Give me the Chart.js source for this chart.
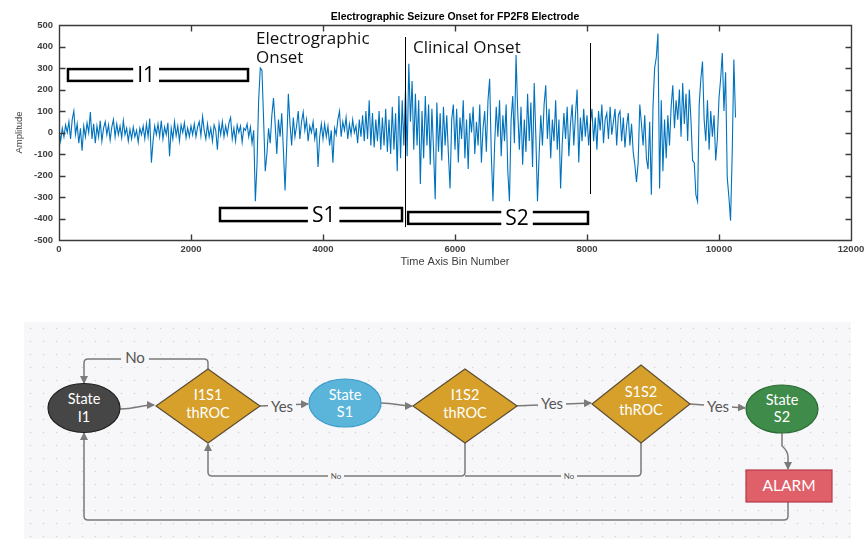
<!DOCTYPE html>
<html>
<head>
<meta charset="utf-8">
<script src="https://cdn.jsdelivr.net/npm/chart.js@4"></script>
<style>
  body { margin: 0; background: #fff; width: 866px; height: 539px; overflow: hidden; position: relative; }
  #eeg { position: absolute; left: 0; top: 0; }
  #flow { position: absolute; left: 0; top: 300px; }
</style>
</head>
<body>
<canvas id="eeg" width="866" height="272"></canvas>
<svg id="flow" width="866" height="239" viewBox="0 300 866 239" xmlns="http://www.w3.org/2000/svg">
  <defs>
    <pattern id="dots" x="24" y="322" width="13" height="13" patternUnits="userSpaceOnUse">
      <circle cx="6.5" cy="6.5" r="0.8" fill="#d3d3d8"/>
    </pattern>
    <marker id="arr" markerWidth="8" markerHeight="8" refX="7" refY="4" orient="auto" markerUnits="userSpaceOnUse">
      <path d="M0,0 L8,4 L0,8 z" fill="#7a7a7a"/>
    </marker>
  </defs>
  <rect x="24" y="322" width="827" height="217" fill="#f7f7f9"/>
  <rect x="24" y="322" width="827" height="217" fill="url(#dots)"/>

  <g fill="none" stroke="#7a7a7a" stroke-width="1.5">
    <path d="M120,409 C137,409 138,405 154,405" marker-end="url(#arr)"/>
    <path d="M208,369 L208,363 Q208,359 204,359 L88,359 Q84,359 84,363 L84,383" marker-end="url(#arr)"/>
    <path d="M260,406 L308,404" marker-end="url(#arr)"/>
    <path d="M381,403 C397,403 397,406 412,406" marker-end="url(#arr)"/>
    <path d="M513,406 L591,403" marker-end="url(#arr)"/>
    <path d="M690,404 L745,408" marker-end="url(#arr)"/>
    <path d="M782,433 L782,446 Q788,451 788,457 L788,469" marker-end="url(#arr)"/>
    <path d="M465,443 L465,472 Q465,476 461,476 L212,476 Q208,476 208,472 L208,444" marker-end="url(#arr)"/>
    <path d="M641,443 L641,472 Q641,476 637,476 L465,476"/>
    <path d="M788,502 L788,516 Q788,520 784,520 L88,520 Q84,520 84,516 L84,433" marker-end="url(#arr)"/>
  </g>

  <g font-family="Lato, 'Open Sans', sans-serif" text-anchor="middle" dominant-baseline="middle" fill="#555">
    <rect x="121" y="351" width="28" height="16" fill="#f7f7f9"/>
    <text x="135" y="359" font-size="15">No</text>
    <rect x="268" y="399" width="28" height="16" fill="#f7f7f9"/>
    <text x="282" y="408" font-size="15">Yes</text>
    <rect x="538" y="396" width="28" height="16" fill="#f7f7f9"/>
    <text x="552" y="405" font-size="15">Yes</text>
    <rect x="704" y="399" width="28" height="16" fill="#f7f7f9"/>
    <text x="718" y="408" font-size="15">Yes</text>
    <rect x="328" y="471" width="16" height="10" fill="#f7f7f9"/>
    <text x="336" y="477" font-size="8">No</text>
    <rect x="561" y="471" width="16" height="10" fill="#f7f7f9"/>
    <text x="569" y="477" font-size="8">No</text>
  </g>

  <ellipse cx="84" cy="408" rx="36" ry="24.5" fill="#464646" stroke="#222" stroke-width="1.2"/>
  <path d="M156,406 L208,369 L260,406 L208,443 Z" fill="#d6a02a" stroke="#5b4d33" stroke-width="1.2"/>
  <ellipse cx="345" cy="403" rx="36" ry="24" fill="#5bb5da" stroke="#3a9bc9" stroke-width="1.2"/>
  <path d="M413,406 L465,369 L517,406 L465,443 Z" fill="#d6a02a" stroke="#5b4d33" stroke-width="1.2"/>
  <path d="M592,404 L641,365 L690,404 L641,443 Z" fill="#d6a02a" stroke="#5b4d33" stroke-width="1.2"/>
  <ellipse cx="782" cy="409" rx="36" ry="24" fill="#3f8b4a" stroke="#2b6a35" stroke-width="1.2"/>
  <rect x="746" y="470" width="86" height="32" fill="#e0606a" stroke="#b53a48" stroke-width="1.2"/>

  <g font-family="Lato, 'Open Sans', sans-serif" font-size="14.5" fill="#fff" text-anchor="middle" dominant-baseline="middle">
    <text x="84" y="400">State</text><text x="84" y="418">I1</text>
    <text x="208" y="396">I1S1</text><text x="208" y="414">thROC</text>
    <text x="345" y="396">State</text><text x="345" y="413">S1</text>
    <text x="465" y="396">I1S2</text><text x="465" y="414">thROC</text>
    <text x="641" y="393">S1S2</text><text x="641" y="411">thROC</text>
    <text x="782" y="401">State</text><text x="782" y="418">S2</text>
    <text x="789" y="487" font-size="15.5">ALARM</text>
  </g>
</svg>
<script>
// sample spacing in bins
const STEP = 25;

// amplitude, one value every STEP bins
const amplitude = [
  10, -40, 20, -20, 35, 0, 50, -30, 60, 100, -10, 40, -50, 20, -85, 30, -20, 45, 0, 95,
  -30, 40, -50, 30, -20, 55, -40, 20, 50, -10, 35, -35, 25, 60, -20, 40, -10, 30, -25, 55,
  -10, 20, -40, 15, -30, 25, -20, 10, -45, 20, -10, 30, -30, 40, -20, 65, -140, -40, 30, -10,
  40, -20, 55, -30, 25, -10, 45, -110, 20, -30, 50, -15, 30, -40, 35, 0, 45, -25, 20, -20,
  30, -10, 40, -20, 25, 50, -15, 75, 10, -30, 40, -20, 20, -40, 35, 10, -80, 40, -10, 50,
  -20, 30, -10, 45, 70, -30, 20, -40, 35, 0, 30, -45, 20, 10, 40, -20, 25, -50, 10, -320,
  -150, 150, 300, 290, 60, -180, -100, 20, -50, 80, 160, 40, -100, 60, -20, 90, -80, -270, -60, 180,
  40, -60, 70, -20, 30, 100, -30, 50, 95, 10, 60, -40, 30, 0, 50, -30, 20, -160, -20, 40,
  -30, 40, -20, 30, -60, 10, -140, 20, -10, 60, 100, -20, 50, 10, 70, -30, 40, -10, 60, 0,
  30, -50, 60, -20, 80, -40, 100, -30, 150, -60, 90, -70, 60, -40, 100, -80, 70, -60, 110, -90,
  60, -100, 120, -80, 90, -180, 170, -120, 150, -60, 200, -110, 320, 50, 240, -80, 180, -60, 150, -240,
  100, -120, 170, -60, 130, -150, 110, -80, -310, 140, -90, 90, -130, 120, -60, 80, -100, -260, 60, 130,
  -80, 110, -140, 70, -30, 150, -120, 60, -170, 90, 0, 120, -100, 50, -60, 130, -140, 20, 100, -90,
  150, 250, -100, -320, -60, 120, -20, 150, -110, 80, -40, 130, -180, -320, 60, 170, -50, 360, 100, -80,
  120, -150, 60, -90, 180, -40, 140, -160, 230, -20, -320, -100, 80, -60, 130, 220, -30, 110, -120, 60,
  -40, 150, -80, 60, -260, -50, 90, -30, 120, -110, 40, 130, -60, 80, 200, -140, 70, -40, 110, -20,
  80, -60, 40, 110, -40, 70, -80, 100, 10, 130, -50, 60, 90, -30, 120, -10, 50, 110, -60, 80,
  100, -40, 70, -70, 30, 90, -60, 40, -90, -150, -230, -140, 130, 40, -60, 80, -120, -170, 50, -290,
  120, 300, 350, 460, -260, 150, -180, 60, -120, 80, -60, 120, 220, 20, 150, 60, 200, -20, 230, 40,
  180, -40, 200, 60, -130, -140, -290, -320, 130, 250, 330, 60, -40, 150, -80, 100, -20, 80, -130, -30,
  160, 250, 370, 100, 280, -210, -300, -410, -100, 340, 70
];

// axis ticks
const xTicks = [0, 2000, 4000, 6000, 8000, 10000, 12000];
const yTicks = [-500, -400, -300, -200, -100, 0, 100, 200, 300, 400, 500];

// onset markers (bin, top, bottom amplitude)
const onsetBins = [5242, 8045];
const onsetTop = [444, 416];
const onsetBottom = [-440, -286];

// interval brackets
const bracketLabels = ['I1', 'S1', 'S2'];
const bracketStart = [136, 2439, 5290];
const bracketEnd = [2864, 5197, 8015];
const bracketTop = [295, -351, -370];
const bracketBottom = [240, -412, -425];
const bracketLabelAt = [1320, 4010, 6940];

// text notes on the plot
const noteTexts = ['Electrographic', 'Onset', 'Clinical Onset'];
const noteBins = [2985, 2985, 5364];
const noteAmps = [412, 323, 370];

// box around the axes with inward ticks
const frame = {
  id: 'frame',
  afterDraw(chart) {
    const { ctx, scales: { x, y } } = chart;
    const l = Math.round(x.getPixelForValue(0)) + 0.5;
    const r = Math.round(x.getPixelForValue(12000)) + 0.5;
    const t = Math.round(y.getPixelForValue(500)) + 0.5;
    const b = Math.round(y.getPixelForValue(-500)) + 0.5;
    ctx.save();
    ctx.strokeStyle = '#3a3a3a';
    ctx.lineWidth = 1.4;
    ctx.beginPath();
    ctx.moveTo(l, t); ctx.lineTo(r, t); ctx.lineTo(r, b); ctx.lineTo(l, b); ctx.closePath();
    xTicks.forEach(v => {
      const px = Math.round(x.getPixelForValue(v)) + 0.5;
      ctx.moveTo(px, t); ctx.lineTo(px, t + 6);
      ctx.moveTo(px, b); ctx.lineTo(px, b - 6);
    });
    yTicks.forEach(v => {
      const py = Math.round(y.getPixelForValue(v)) + 0.5;
      ctx.moveTo(l, py); ctx.lineTo(l + 6, py);
      ctx.moveTo(r, py); ctx.lineTo(r - 6, py);
    });
    ctx.stroke();
    ctx.restore();
  }
};

const annotations = {
  id: 'annotations',
  afterDatasetsDraw(chart) {
    const { ctx, scales: { x, y } } = chart;
    ctx.save();

    // onset lines
    ctx.strokeStyle = '#000';
    ctx.lineWidth = 1;
    onsetBins.forEach((b, i) => {
      const px = Math.round(x.getPixelForValue(b)) + 0.5;
      ctx.beginPath();
      ctx.moveTo(px, y.getPixelForValue(onsetTop[i]));
      ctx.lineTo(px, y.getPixelForValue(onsetBottom[i]));
      ctx.stroke();
    });

    // brackets
    ctx.font = '21px "Open Sans"';
    ctx.textAlign = 'center';
    ctx.textBaseline = 'middle';
    bracketLabels.forEach((lab, i) => {
      const x0 = x.getPixelForValue(bracketStart[i]);
      const x1 = x.getPixelForValue(bracketEnd[i]);
      const y0 = y.getPixelForValue(bracketTop[i]);
      const y1 = y.getPixelForValue(bracketBottom[i]);
      ctx.lineWidth = 2.5;
      ctx.strokeStyle = '#000';
      ctx.strokeRect(x0, y0, x1 - x0, y1 - y0);
      const lx = x.getPixelForValue(bracketLabelAt[i]);
      const w = ctx.measureText(lab).width + 8;
      ctx.fillStyle = '#fff';
      ctx.fillRect(lx - w / 2, y0 - 3, w, y1 - y0 + 6);
      ctx.fillStyle = '#000';
      ctx.fillText(lab, lx, (y0 + y1) / 2 + 1);
    });

    // notes
    ctx.font = '17px "Open Sans"';
    ctx.textAlign = 'left';
    ctx.textBaseline = 'alphabetic';
    ctx.fillStyle = '#111';
    noteTexts.forEach((t, i) => {
      ctx.fillText(t, x.getPixelForValue(noteBins[i]), y.getPixelForValue(noteAmps[i]));
    });
    ctx.restore();
  }
};

new Chart(document.getElementById('eeg'), {
  type: 'line',
  data: {
    datasets: [{
      data: amplitude.map((v, i) => ({ x: i * STEP, y: v })),
      borderColor: '#0072BD',
      borderWidth: 1.1,
      pointRadius: 0,
      tension: 0,
      fill: false
    }]
  },
  options: {
    responsive: false,
    animation: false,
    devicePixelRatio: 1,
    layout: { padding: { left: 0, right: 15, top: 0, bottom: 0 } },
    plugins: {
      legend: { display: false },
      tooltip: { enabled: false },
      title: {
        display: true,
        fullSize: false,
        text: 'Electrographic Seizure Onset for FP2F8 Electrode',
        color: '#000',
        font: { family: '"Liberation Sans", Arial', size: 10.5, weight: 'bold', lineHeight: 1.2 },
        padding: { top: 11, bottom: 1.4 }
      }
    },
    scales: {
      x: {
        type: 'linear',
        min: 0,
        max: 12000,
        afterFit: s => { s.height = 32; s.paddingLeft = 0; s.paddingRight = 0; },
        afterBuildTicks: s => { s.ticks = xTicks.map(v => ({ value: v })); },
        grid: { display: false, drawTicks: false },
        border: { display: false },
        ticks: {
          color: '#404040',
          padding: 4,
          maxRotation: 0,
          callback: v => String(v),
          font: { family: '"Liberation Sans", Arial', size: 9.5, weight: 'bold' }
        },
        title: {
          display: true,
          text: 'Time Axis Bin Number',
          color: '#404040',
          font: { family: '"Liberation Sans", Arial', size: 11 },
          padding: { top: 0, bottom: 3 }
        }
      },
      y: {
        min: -500,
        max: 500,
        afterFit: s => { s.width = 59; s.paddingTop = 0; s.paddingBottom = 0; },
        afterBuildTicks: s => { s.ticks = yTicks.map(v => ({ value: v })); },
        grid: { display: false, drawTicks: false },
        border: { display: false },
        ticks: {
          color: '#404040',
          padding: 6,
          callback: v => String(v),
          font: { family: '"Liberation Sans", Arial', size: 9.5, weight: 'bold' }
        },
        title: {
          display: true,
          text: 'Amplitude',
          color: '#404040',
          font: { family: '"Liberation Sans", Arial', size: 9.5 },
          padding: { top: 14, bottom: 0 }
        }
      }
    }
  },
  plugins: [annotations, frame]
});
</script>
</body>
</html>
